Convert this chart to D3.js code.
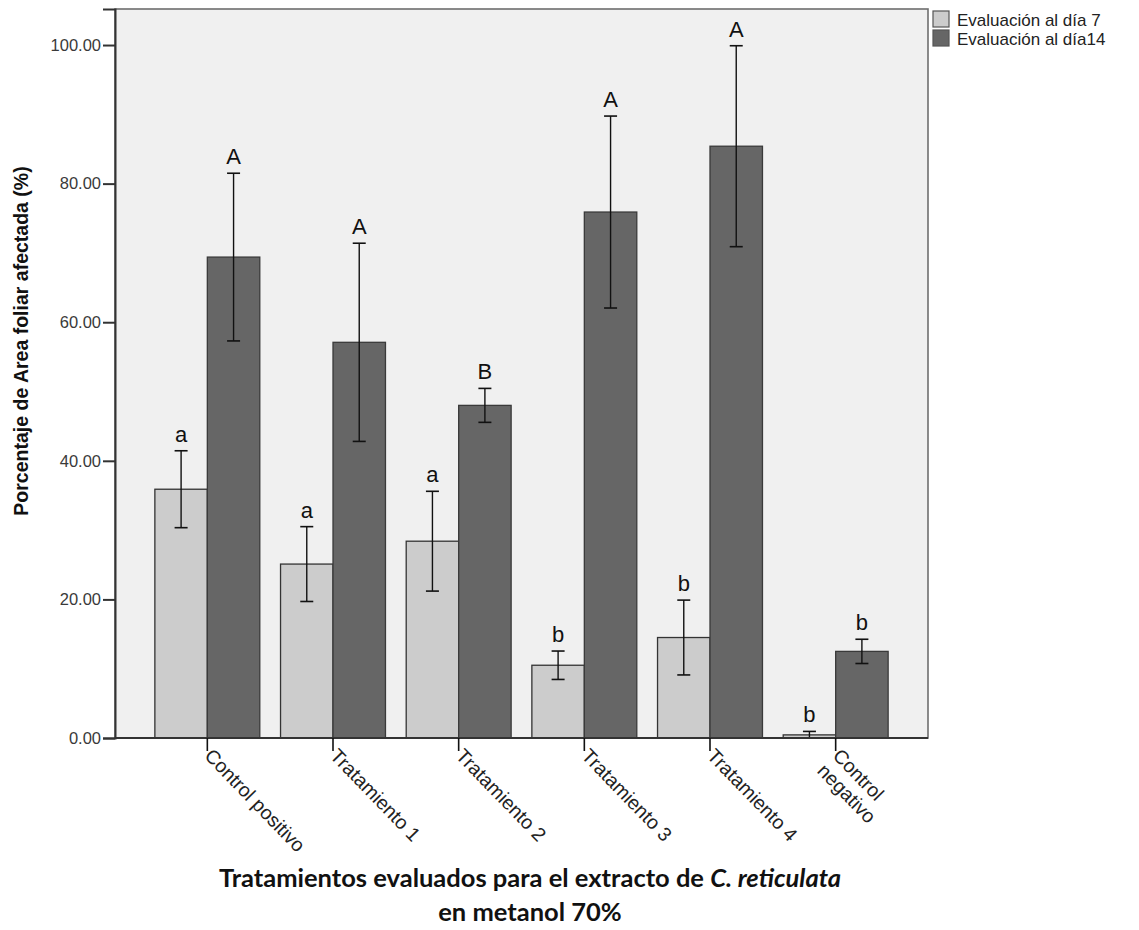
<!DOCTYPE html>
<html>
<head>
<meta charset="utf-8">
<script src="https://cdn.jsdelivr.net/npm/d3@7"></script>
<style>
  html, body { margin: 0; padding: 0; background: #fff; }
  svg { display: block; }
</style>
</head>
<body>
<svg id="chart" width="1139" height="930"></svg>
<script>
// ---- data ----
const categories = ["Control positivo", "Tratamiento 1", "Tratamiento 2", "Tratamiento 3", "Tratamiento 4", "Control negativo"];
const seriesNames = ["Evaluación al día 7", "Evaluación al día14"];
const day7 = [35.9, 25.1, 28.4, 10.5, 14.5, 0.45];
const err7 = [5.55, 5.4, 7.2, 2.05, 5.4, 0.5];
const day14 = [69.4, 57.1, 48.0, 75.9, 85.4, 12.5];
const err14 = [12.1, 14.3, 2.45, 13.85, 14.5, 1.75];
const letters7 = ["a", "a", "a", "b", "b", "b"];
const letters14 = ["A", "A", "B", "A", "A", "b"];
const yTicks = [0, 20, 40, 60, 80, 100];

// ---- layout ----
const svg = d3.select("#chart");
const frame = { left: 115, right: 928, top: 9, bottom: 738 };
const colors = ["#cccccc", "#666666"];
const strokes = ["#333333", "#3a3a3a"];

const y = d3.scaleLinear().domain([0, 105.2]).range([frame.bottom, frame.top]);
const x = d3.scaleBand().domain(categories).range([144.5, 898.5]).paddingInner(0.165).paddingOuter(0.0825);
const xs = d3.scaleBand().domain([0, 1]).range([0, x.bandwidth()]);

// background
svg.append("rect").attr("x", 0).attr("y", 0).attr("width", 1139).attr("height", 930).attr("fill", "#fff");
svg.append("rect")
  .attr("x", frame.left).attr("y", frame.top)
  .attr("width", frame.right - frame.left).attr("height", frame.bottom - frame.top)
  .attr("fill", "#f0f0f0").attr("stroke", "#6e6e6e").attr("stroke-width", 1.6);

// data rows
const rows = categories.map((c, i) => ({
  cat: c,
  vals: [
    { s: 0, v: day7[i], e: err7[i], l: letters7[i] },
    { s: 1, v: day14[i], e: err14[i], l: letters14[i] }
  ]
}));

const g = svg.append("g");
const grp = g.selectAll("g.grp").data(rows).join("g")
  .attr("class", "grp")
  .attr("transform", d => `translate(${x(d.cat)},0)`);

// bars
grp.selectAll("rect.bar").data(d => d.vals).join("rect")
  .attr("class", "bar")
  .attr("x", d => xs(d.s))
  .attr("width", xs.bandwidth())
  .attr("y", d => y(d.v))
  .attr("height", d => y(0) - y(d.v))
  .attr("fill", d => colors[d.s])
  .attr("stroke", d => strokes[d.s])
  .attr("stroke-width", 1.3);

// error bars
const capW = 13;
const eb = grp.selectAll("g.eb").data(d => d.vals).join("g").attr("class", "eb")
  .attr("transform", d => `translate(${xs(d.s) + xs.bandwidth() / 2},0)`);
eb.append("line")
  .attr("x1", 0).attr("x2", 0)
  .attr("y1", d => y(d.v + d.e)).attr("y2", d => y(Math.max(0, d.v - d.e)))
  .attr("stroke", "#111").attr("stroke-width", 1.4);
eb.append("line")
  .attr("x1", -capW / 2).attr("x2", capW / 2)
  .attr("y1", d => y(d.v + d.e)).attr("y2", d => y(d.v + d.e))
  .attr("stroke", "#111").attr("stroke-width", 1.6);
eb.append("line")
  .attr("x1", -capW / 2).attr("x2", capW / 2)
  .attr("y1", d => y(Math.max(0, d.v - d.e))).attr("y2", d => y(Math.max(0, d.v - d.e)))
  .attr("stroke", "#111").attr("stroke-width", 1.6);

// significance letters
eb.append("text")
  .attr("x", 0)
  .attr("y", d => y(d.v + d.e) - 9)
  .attr("text-anchor", "middle")
  .attr("font-family", "Arial, 'Liberation Sans', sans-serif")
  .attr("font-size", 22)
  .attr("fill", "#111")
  .text(d => d.l);

// y axis
const yAxis = d3.axisLeft(y).tickValues(yTicks).tickFormat(d3.format(".2f")).tickSize(12).tickPadding(2);
const ya = svg.append("g").attr("transform", `translate(${frame.left},0)`).call(yAxis);
ya.select(".domain").attr("stroke", "#333").attr("stroke-width", 2);
ya.selectAll(".tick line").attr("stroke", "#333").attr("stroke-width", 2);
ya.selectAll(".tick text")
  .attr("font-family", "Arial, 'Liberation Sans', sans-serif")
  .attr("font-size", 16.5)
  .attr("fill", "#3a3a3a");

// x axis (ticks at group centres)
const xAxisG = svg.append("g");
xAxisG.append("line")
  .attr("x1", frame.left).attr("x2", frame.right)
  .attr("y1", frame.bottom).attr("y2", frame.bottom)
  .attr("stroke", "#333").attr("stroke-width", 2);
const xt = xAxisG.selectAll("g.xt").data(categories).join("g")
  .attr("class", "xt")
  .attr("transform", d => `translate(${x(d) + x.bandwidth() / 2},${frame.bottom})`);
xt.append("line").attr("x1", 0).attr("x2", 0).attr("y1", 0).attr("y2", 13)
  .attr("stroke", "#111").attr("stroke-width", 1.6);
const xlab = xt.append("text")
  .attr("transform", "translate(1,14) rotate(46)")
  .attr("font-family", "Arial, 'Liberation Sans', sans-serif")
  .attr("font-size", 19.5)
  .attr("fill", "#222")
  .attr("text-anchor", "start");
xlab.each(function(d) {
  const t = d3.select(this);
  const parts = d === "Control negativo" ? ["Control", "negativo"] : [d];
  parts.forEach((p, k) => {
    t.append("tspan").attr("x", 0).attr("dy", k === 0 ? "0.35em" : "1.1em").text(p);
  });
});

// y axis title
svg.append("text")
  .attr("transform", `translate(28,${(160 + 522) / 2}) rotate(-90)`)
  .attr("text-anchor", "middle")
  .attr("font-family", "Arial, 'Liberation Sans', sans-serif")
  .attr("font-weight", "bold")
  .attr("font-size", 19.5)
  .attr("fill", "#111")
  .text("Porcentaje de Area foliar afectada (%)");

// x axis title
const xt1 = svg.append("text")
  .attr("x", 530).attr("y", 887)
  .attr("text-anchor", "middle")
  .attr("font-family", "Lato, 'Open Sans', sans-serif")
  .attr("font-weight", "bold")
  .attr("font-size", 25.5)
  .attr("fill", "#111");
xt1.append("tspan").text("Tratamientos evaluados para el extracto de ");
xt1.append("tspan").attr("font-style", "italic").text("C. reticulata");
svg.append("text")
  .attr("x", 530).attr("y", 921)
  .attr("text-anchor", "middle")
  .attr("font-family", "Lato, 'Open Sans', sans-serif")
  .attr("font-weight", "bold")
  .attr("font-size", 25.5)
  .attr("fill", "#111")
  .text("en metanol 70%");

// legend
const lg = svg.append("g").attr("transform", "translate(933,11)");
const li = lg.selectAll("g").data(seriesNames).join("g")
  .attr("transform", (d, i) => `translate(0,${i * 19})`);
li.append("rect").attr("x", 0).attr("y", 0).attr("width", 16).attr("height", 16)
  .attr("fill", (d, i) => colors[i]).attr("stroke", "#555").attr("stroke-width", 1.2);
li.append("text").attr("x", 24).attr("y", 14.5)
  .attr("font-family", "Arial, 'Liberation Sans', sans-serif")
  .attr("font-size", 17)
  .attr("fill", "#222")
  .text(d => d);
</script>
</body>
</html>
